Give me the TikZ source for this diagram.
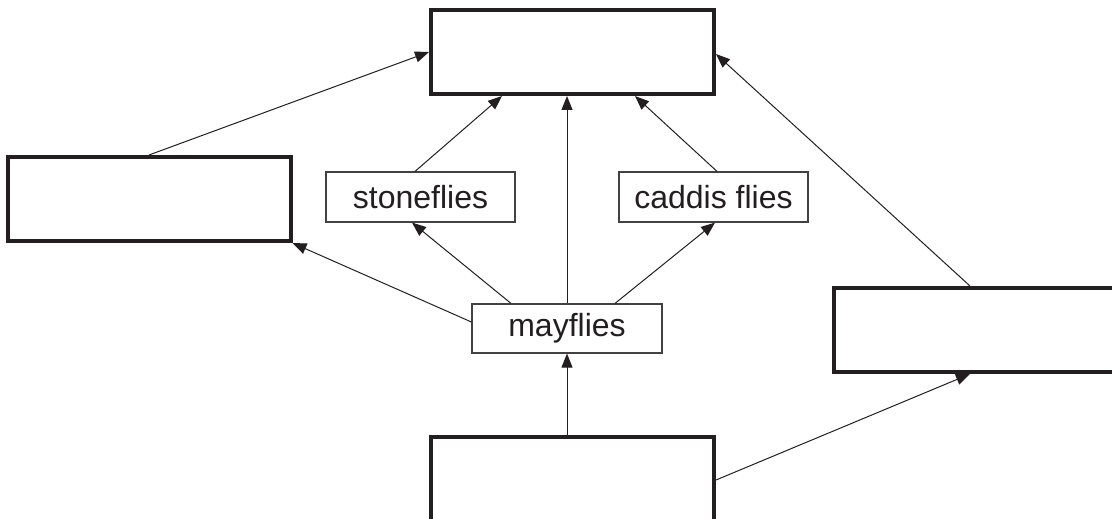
\documentclass[tikz,border=0pt]{standalone}
\usepackage{fontspec}
\setmainfont{Liberation Sans}
\usetikzlibrary{arrows.meta}
\definecolor{ink}{HTML}{231F20}
\tikzset{
  bigbox/.style={draw=ink, line width=4pt, rectangle, minimum width=283pt, minimum height=84pt, inner sep=0pt},
  taxon/.style={draw=ink!85, line width=1.2pt, rectangle, minimum height=50pt, inner sep=0pt, text=ink,
    font=\fontsize{32}{38}\selectfont},
  link/.style={draw=ink, line width=1pt, -{Triangle[length=14pt,width=11pt]}}
}
\begin{document}
\begin{tikzpicture}[x=1pt,y=1pt]
  \path[clip] (0,0) rectangle (1112,-519);
  \fill[white] (0,0) rectangle (1112,-519);

  % empty boxes
  \node[bigbox] (top)    at (572.5,-52)  {};
  \node[bigbox] (left)   at (149,-199)   {};
  \node[bigbox] (right)  at (975.5,-330) {};
  \node[bigbox] (bottom) at (572.5,-479) {};

  % labelled boxes
  \node[taxon, minimum width=189pt] (stone)  at (420.5,-197) {stoneflies};
  \node[taxon, minimum width=189pt] (caddis) at (713.5,-197) {caddis flies};
  \node[taxon, minimum width=190pt, minimum height=49pt] (may) at (567,-328.5) {mayflies};

  % connectors
  \draw[link] (left.north) -- (top.west);
  \draw[link] ([xshift=-5.5pt]stone.north) -- ([xshift=-70.5pt]top.south);
  \draw[link] (may.north) -- (may.north |- top.south);
  \draw[link] ([xshift=3.5pt]caddis.north) -- ([xshift=62.5pt]top.south);
  \draw[link] ([xshift=-5.5pt]right.north) -- ([yshift=-2pt]top.east);
  \draw[link] ([yshift=6.5pt]may.west) -- (left.south east);
  \draw[link] ([xshift=-56pt]may.north) -- ([xshift=-8.5pt]stone.south);
  \draw[link] ([xshift=48pt]may.north) -- ([xshift=1.5pt]caddis.south);
  \draw[link] (may.south |- bottom.north) -- (may.south);
  \draw[link] ([yshift=-1pt]bottom.east) -- ([xshift=-5.5pt]right.south);
\end{tikzpicture}
\end{document}
